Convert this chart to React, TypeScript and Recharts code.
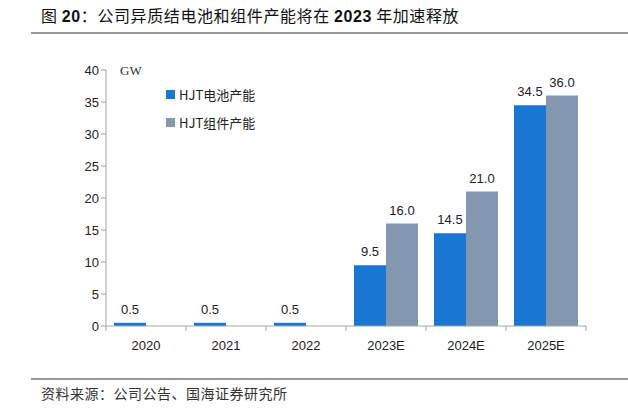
import React from 'react';
import { BarChart, Bar, XAxis, YAxis, LabelList } from 'recharts';

const years = ['2020', '2021', '2022', '2023E', '2024E', '2025E'];
const cellCapacity = [0.5, 0.5, 0.5, 9.5, 14.5, 34.5];
const moduleCapacity = [null, null, null, 16.0, 21.0, 36.0];
const yTicks = [0, 5, 10, 15, 20, 25, 30, 35, 40];

const BLUE = '#1976D2';
const GRAY = '#8497B0';
const AXIS = '#A6A6A6';
const NUM_FONT = '"Liberation Sans", Arial, sans-serif';
const CJK_FONT = '"Noto Sans CJK SC", sans-serif';

const data = years.map((year, i) => ({
  year,
  cell: cellCapacity[i],
  module: moduleCapacity[i],
}));

const legendItems = [
  { label: 'HJT电池产能', color: BLUE },
  { label: 'HJT组件产能', color: GRAY },
];

// category tick: label in the middle, small tick marks on the band edges
function XTick(props: any) {
  const { x, y, payload, index } = props;
  const half = payload.offset || 0;
  const isLast = index === years.length - 1;
  return (
    <g>
      <line x1={x - half} y1={y - 8} x2={x - half} y2={y - 3} stroke={AXIS} />
      {isLast && <line x1={x + half} y1={y - 8} x2={x + half} y2={y - 3} stroke={AXIS} />}
      <text x={x} y={y + 16} textAnchor="middle" fontSize={13} fontFamily={NUM_FONT} fill="#222">
        {payload.value}
      </text>
    </g>
  );
}

const fmt = (v: any) => (v == null ? '' : Number(v).toFixed(1));

const boldLatin: React.CSSProperties = { fontFamily: NUM_FONT, fontWeight: 'bold' };

export default function App() {
  return (
    <div style={{ position: 'absolute', left: 0, top: 0, width: 628, height: 409, background: '#fff' }}>
      <div
        style={{
          position: 'absolute', left: 41, top: 4, fontSize: 16, letterSpacing: 0.6,
          fontFamily: CJK_FONT, color: '#111', whiteSpace: 'nowrap', lineHeight: '22px',
        }}
      >
        图 <span style={boldLatin}>20</span>：公司异质结电池和组件产能将在 <span style={boldLatin}>2023</span> 年加速释放
      </div>
      <div style={{ position: 'absolute', left: 31, top: 32, width: 597, height: 2, background: '#999' }} />

      <BarChart
        width={628}
        height={409}
        data={data}
        margin={{ top: 70, right: 42, bottom: 53, left: 0 }}
        barCategoryGap="10%"
        barGap={0}
      >
        <XAxis
          dataKey="year"
          height={30}
          axisLine={{ stroke: AXIS }}
          tickLine={false}
          tick={<XTick />}
          interval={0}
        />
        <YAxis
          width={106}
          domain={[0, 40]}
          ticks={yTicks}
          interval={0}
          axisLine={{ stroke: AXIS }}
          tickLine={{ stroke: AXIS }}
          tickSize={5}
          tick={{ fontSize: 13, fontFamily: NUM_FONT, fill: '#222' }}
        />
        <Bar dataKey="cell" name="HJT电池产能" fill={BLUE} isAnimationActive={false}>
          <LabelList
            dataKey="cell"
            position="top"
            offset={9}
            formatter={fmt}
            style={{ fontSize: 13, fontFamily: NUM_FONT, fill: '#222' }}
          />
        </Bar>
        <Bar dataKey="module" name="HJT组件产能" fill={GRAY} isAnimationActive={false}>
          <LabelList
            dataKey="module"
            position="top"
            offset={9}
            formatter={fmt}
            style={{ fontSize: 13, fontFamily: NUM_FONT, fill: '#222' }}
          />
        </Bar>
      </BarChart>

      <div style={{ position: 'absolute', left: 166, top: 80 }}>
        {legendItems.map((it) => (
          <div key={it.label} style={{ display: 'flex', alignItems: 'center', height: 28 }}>
            <span style={{ width: 9, height: 9, background: it.color, display: 'inline-block', marginRight: 4 }} />
            <span style={{ fontSize: 13, fontFamily: CJK_FONT, color: '#222' }}>{it.label}</span>
          </div>
        ))}
      </div>

      <div
        style={{
          position: 'absolute', left: 120, top: 63, fontSize: 13,
          fontFamily: '"Liberation Serif", serif', color: '#333',
        }}
      >
        GW
      </div>

      <div style={{ position: 'absolute', left: 31, top: 378, width: 597, height: 2, background: '#999' }} />
      <div
        style={{
          position: 'absolute', left: 41, top: 383, fontSize: 14, letterSpacing: 0.5,
          fontFamily: CJK_FONT, color: '#333', whiteSpace: 'nowrap', lineHeight: '20px',
        }}
      >
        资料来源：公司公告、国海证券研究所
      </div>
    </div>
  );
}
